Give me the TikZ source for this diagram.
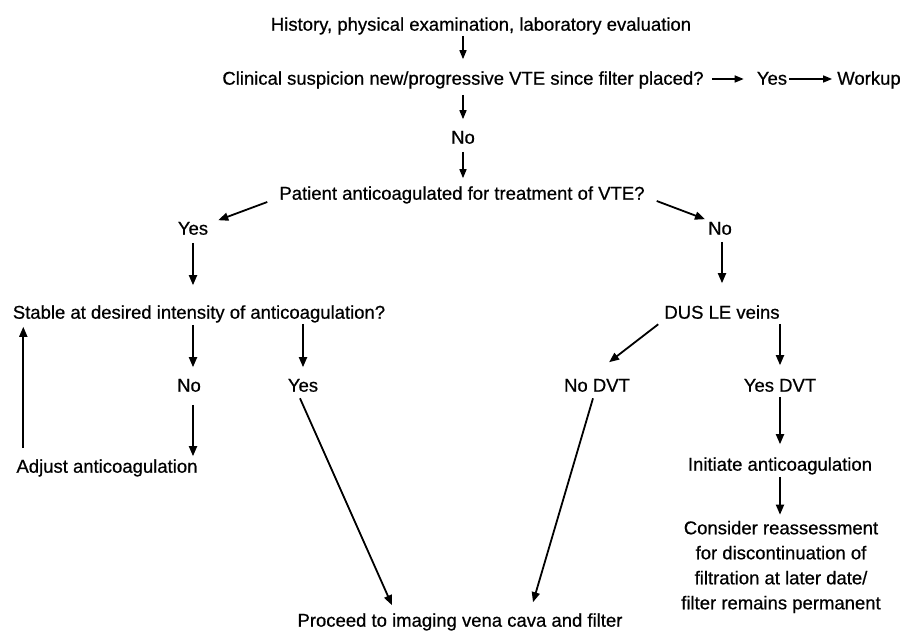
\documentclass[tikz,border=0pt]{standalone}
\usepackage{fontspec}
\setmainfont{Liberation Sans}[FakeBold=0.6]
\usetikzlibrary{arrows.meta}
\begin{document}
\begin{tikzpicture}[x=1pt,y=-1pt,
  t/.style={inner sep=0pt, font=\fontsize{18.5}{25}\selectfont, text height=13.3pt, text depth=3.9pt, align=center},
  tm/.style={inner sep=0pt, font=\fontsize{18.5}{25}\selectfont, align=center},
  arr/.style={-{Triangle[length=10pt,width=8pt]}, line width=1.8pt},
  arrs/.style={-{Triangle[length=9pt,width=7pt]}, line width=1.5pt}]
\useasboundingbox (0,0) rectangle (905,639);
\fill[white] (0,0) rectangle (905,639);

\node[t] (hist) at (481,26) {History, physical examination, laboratory evaluation};
\node[t] (clin) at (463,80) {Clinical suspicion new/progressive VTE since filter placed?};
\node[t] (yes0) at (772,80) {Yes};
\node[t] (work) at (869,80) {Workup};
\node[t] (no0) at (463,139) {No};
\node[t] (pat) at (462,195) {Patient anticoagulated for treatment of VTE?};
\node[t] (yesA) at (193,230) {Yes};
\node[t] (noA) at (720,230) {No};
\node[t] (stab) at (199,314) {Stable at desired intensity of anticoagulation?};
\node[t] (dus) at (722,314) {DUS LE veins};
\node[t] (noB) at (189,387) {No};
\node[t] (yesB) at (303,387) {Yes};
\node[t] (nodvt) at (597,387) {No DVT};
\node[t] (yesdvt) at (780,387) {Yes DVT};
\node[t] (adj) at (107,468) {Adjust anticoagulation};
\node[t] (init) at (780,466) {Initiate anticoagulation};
\node[tm] (cons) at (781,567) {Consider reassessment\\for discontinuation of\\filtration at later date/\\filter remains permanent};
\node[t] (proc) at (460,622) {Proceed to imaging vena cava and filter};

% top chain
\draw[arrs, shorten <=1pt, shorten >=12pt] (clin.north |- hist.south) -- (clin.north);
\draw[arrs, shorten <=6pt, shorten >=11pt] (clin.south) -- (clin.south |- no0.north);
\draw[arrs, shorten <=4pt, shorten >=8pt] (no0.south) -- (no0.south |- pat.north);
\draw[arrs, shorten <=8pt, shorten >=13pt] ([yshift=1pt]clin.east) -- ([yshift=1pt]yes0.west);
\draw[arrs, shorten <=2pt, shorten >=5pt] ([yshift=1pt]yes0.east) -- ([yshift=1pt]work.west);

% branches from patient
\draw[arr] ([xshift=-12pt,yshift=-7pt]pat.west) -- ([xshift=10pt,yshift=1pt]yesA.north east);
\draw[arr] ([xshift=12pt,yshift=-6pt]pat.east) -- ([xshift=-3pt,yshift=2pt]noA.north west);

% left branch
\draw[arr, shorten <=4pt, shorten >=20pt] (yesA.south) -- (yesA.south |- stab.north);
\draw[arr, shorten <=2pt, shorten >=11pt] ([xshift=4pt]noB.north |- stab.south) -- ([xshift=4pt]noB.north);
\draw[arr, shorten <=1pt, shorten >=11pt] (yesB.north |- stab.south) -- (yesB.north);
\draw[arr, shorten <=9pt, shorten >=3pt] ([xshift=4pt]noB.south) -- ([xshift=4pt]noB.south |- adj.north);
\draw[arr, shorten <=11pt, shorten >=4pt] ([xshift=7pt]adj.north west) -- ([xshift=7pt]adj.north west |- stab.south);
\draw[arr] ([xshift=-3pt,yshift=-2.5pt]yesB.south) -- ([xshift=-68pt,yshift=8pt]proc.north);

% right branch
\draw[arr, shorten <=3pt, shorten >=22pt] (dus.north |- noA.south) -- (dus.north);
\draw[arr] ([xshift=-6pt,yshift=-1.5pt]dus.south west) -- ([xshift=-21pt,yshift=16pt]nodvt.north east);
\draw[arr, shorten <=1pt, shorten >=13pt] (yesdvt.north |- dus.south) -- (yesdvt.north);
\draw[arr, shorten <=1pt, shorten >=13pt] (yesdvt.south) -- (yesdvt.south |- init.north);
\draw[arr, shorten <=2pt, shorten >=6pt] (init.south) -- (init.south |- cons.north);
\draw[arr] ([xshift=-4pt,yshift=-2.5pt]nodvt.south) -- ([xshift=73pt,yshift=11pt]proc.north);
\end{tikzpicture}
\end{document}
